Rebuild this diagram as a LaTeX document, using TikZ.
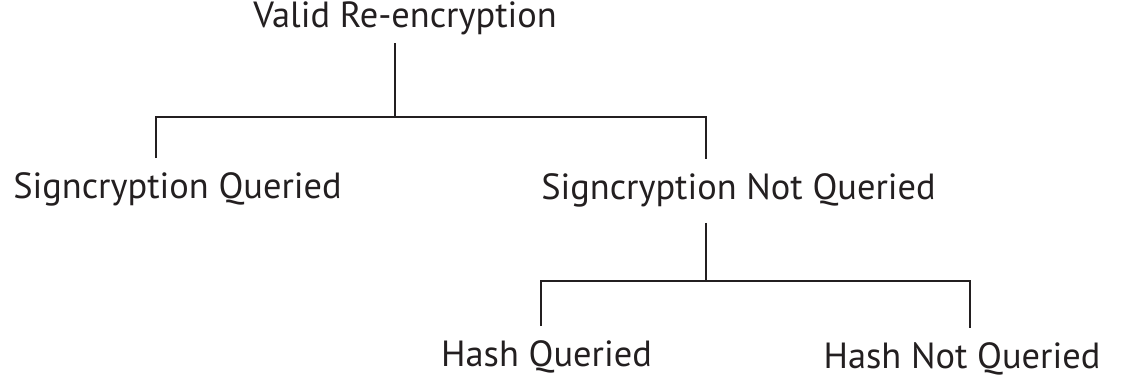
\documentclass[tikz,border=0pt]{standalone}
\usepackage{fontspec}
\setmainfont{PT Sans}
\definecolor{ink}{HTML}{231F20}
\tikzstyle{root} = [text=ink, font=\fontsize{18.2}{21}\selectfont, anchor=base, inner xsep=0pt, inner ysep=3.7pt, text height=12.7pt, text depth=3.8pt]
\tikzstyle{leaf} = [root, inner ysep=7.5pt]
\tikzstyle{branch} = [draw=ink, line width=1.1pt]

\begin{document}
\begin{tikzpicture}[x=0.5pt, y=-0.5pt]
\useasboundingbox (0,0) rectangle (1133,378);
\node (valid)[root] at (405,28) {Valid Re-encryption};
\node (sq)[leaf] at (177.5,199) {Signcryption Queried};
\node (snq)[leaf] at (738.5,200) {Signcryption Not Queried};
\node (hq)[leaf] at (546.5,367) {Hash Queried};
\node (hnq)[leaf] at (962,369) {Hash Not Queried};

\coordinate (fork1) at (395,117);
\coordinate (fork2) at (706,281);

\draw [branch] ([xshift=-5pt]valid.south) -- (fork1);
\draw [branch] ([xshift=-10.75pt]sq.north) |- (fork1) -| ([xshift=-16.25pt]snq.north);
\draw [branch] ([xshift=-16.25pt]snq.south) -- (fork2);
\draw [branch] ([xshift=-2.75pt]hq.north) |- (fork2) -| ([xshift=4pt]hnq.north);
\end{tikzpicture}
\end{document}
